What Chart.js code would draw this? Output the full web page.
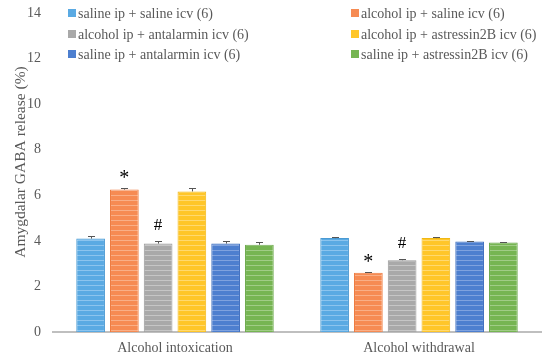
<!DOCTYPE html>
<html><head><meta charset="utf-8">
<script src="https://cdn.jsdelivr.net/npm/chart.js@4"></script>
<style>html,body{margin:0;padding:0;background:#fff}#wrap{width:550px;height:359px}</style>
</head><body><div id="wrap"><canvas id="c" width="550" height="359"></canvas></div>
<script>
const categories = ["Alcohol intoxication", "Alcohol withdrawal"];
const seriesLabels = [
  "saline ip + saline icv (6)",
  "alcohol ip + saline icv (6)",
  "alcohol ip + antalarmin icv (6)",
  "alcohol ip + astressin2B icv (6)",
  "saline ip + antalarmin icv (6)",
  "saline ip + astressin2B icv (6)"
];
const yTitle = "Amygdalar GABA release (%)";
const salineSaline = [4.1, 4.12];
const alcoholSaline = [6.25, 2.6];
const alcoholAntalarmin = [3.88, 3.15];
const alcoholAstressin = [6.17, 4.12];
const salineAntalarmin = [3.88, 3.97];
const salineAstressin = [3.83, 3.93];
const errSalineSaline = [0.12, 0.04];
const errAlcoholSaline = [0.08, 0.04];
const errAlcoholAntalarmin = [0.12, 0.05];
const errAlcoholAstressin = [0.14, 0.04];
const errSalineAntalarmin = [0.12, 0.04];
const errSalineAstressin = [0.12, 0.04];
const marks = [["", "*", "#", "", "", ""], ["", "*", "#", "", "", ""]];
const yTicks = [0, 2, 4, 6, 8, 10, 12, 14];

const baseColors = ["#5AAAE3", "#F68B53", "#A9A9A9", "#FFC629", "#4D7FCF", "#76B552"];
const stripeColors = ["#8CC4EE", "#F9AF87", "#C6C6C6", "#FFD970", "#7FA2DE", "#A0CC86"];
const borderColors = ["#4A9AD3", "#EE7A3E", "#9A9A9A", "#F0B814", "#3F6FBF", "#66A544"];

function makePattern(base, stripe) {
  const pc = document.createElement('canvas');
  pc.width = 4; pc.height = 5;
  const g = pc.getContext('2d');
  g.fillStyle = base; g.fillRect(0, 0, 4, 5);
  g.fillStyle = stripe; g.fillRect(0, 0, 4, 1);
  return document.getElementById('c').getContext('2d').createPattern(pc, 'repeat');
}

const values = [salineSaline, alcoholSaline, alcoholAntalarmin, alcoholAstressin, salineAntalarmin, salineAstressin];
const errors = [errSalineSaline, errAlcoholSaline, errAlcoholAntalarmin, errAlcoholAstressin, errSalineAntalarmin, errSalineAstressin];

const datasets = values.map((v, i) => ({
  label: seriesLabels[i],
  data: v,
  backgroundColor: makePattern(baseColors[i], stripeColors[i]),
  borderColor: borderColors[i],
  borderWidth: 1,
  legendColor: baseColors[i],
  errors: errors[i],
  categoryPercentage: 0.83,
  barPercentage: 0.85
}));

const FONT = "'Liberation Serif', 'Times New Roman', serif";

const errorPlugin = {
  id: 'errbars',
  afterDatasetsDraw(chart) {
    const ctx = chart.ctx;
    const y = chart.scales.y;
    ctx.save();
    chart.data.datasets.forEach((ds, di) => {
      const meta = chart.getDatasetMeta(di);
      meta.data.forEach((bar, j) => {
        const v = ds.data[j], e = ds.errors[j];
        const yt = y.getPixelForValue(v + e);
        const yb = y.getPixelForValue(v);
        ctx.strokeStyle = '#555';
        ctx.lineWidth = 1;
        ctx.beginPath();
        ctx.moveTo(Math.round(bar.x) + 0.5, yb);
        ctx.lineTo(Math.round(bar.x) + 0.5, Math.round(yt) + 0.5);
        ctx.moveTo(Math.round(bar.x) - 3, Math.round(yt) + 0.5);
        ctx.lineTo(Math.round(bar.x) + 4, Math.round(yt) + 0.5);
        ctx.stroke();
        const m = marks[j][di];
        if (m) {
          ctx.fillStyle = '#000';
          ctx.font = (m === '*' ? '20px ' : '17px ') + FONT;
          ctx.textAlign = 'center';
          ctx.textBaseline = 'alphabetic';
          ctx.fillText(m, bar.x, yt - (m === '*' ? 4 : 11));
        }
      });
    });
    ctx.restore();
  }
};

const legendPlugin = {
  id: 'customLegend',
  afterDraw(chart) {
    const ctx = chart.ctx;
    ctx.save();
    ctx.font = '14px ' + FONT;
    ctx.textBaseline = 'middle';
    ctx.textAlign = 'left';
    const cols = [68, 351];
    const rows = [13, 34, 54];
    chart.data.datasets.forEach((ds, i) => {
      const cx = cols[i % 2], cy = rows[Math.floor(i / 2)];
      ctx.fillStyle = ds.legendColor;
      ctx.fillRect(cx, cy - 4, 8, 8);
      ctx.fillStyle = '#595959';
      ctx.fillText(ds.label, cx + 10, cy + 1);
    });
    // y-axis title
    ctx.fillStyle = '#595959';
    ctx.translate(21, 162);
    ctx.rotate(-Math.PI / 2);
    ctx.textAlign = 'center';
    ctx.textBaseline = 'middle';
    ctx.font = '15.5px ' + FONT;
    ctx.fillText(yTitle, 0, 0);
    ctx.restore();
  }
};

new Chart(document.getElementById('c'), {
  type: 'bar',
  data: { labels: categories, datasets },
  options: {
    responsive: false,
    animation: false,
    layout: { padding: { top: 13, right: 9, left: 0, bottom: 0 } },
    plugins: { legend: { display: false }, tooltip: { enabled: false } },
    scales: {
      x: {
        grid: { display: false, drawTicks: false },
        border: { color: '#BFBFBF', width: 2 },
        ticks: { color: '#595959', font: { family: FONT, size: 14 }, padding: 8 },
        afterFit(s) { s.height = 27; s.paddingLeft = 0; s.paddingRight = 0; }
      },
      y: {
        min: 0, max: 14,
        afterBuildTicks(s) { s.ticks = yTicks.map(v => ({ value: v })); },
        grid: { display: false, drawTicks: false },
        border: { display: false },
        ticks: { color: '#595959', font: { family: FONT, size: 14 }, padding: 12 },
        afterFit(s) { s.width = 53; s.paddingTop = 0; s.paddingBottom = 0; }
      }
    }
  },
  plugins: [errorPlugin, legendPlugin]
});
</script>
</body></html>
